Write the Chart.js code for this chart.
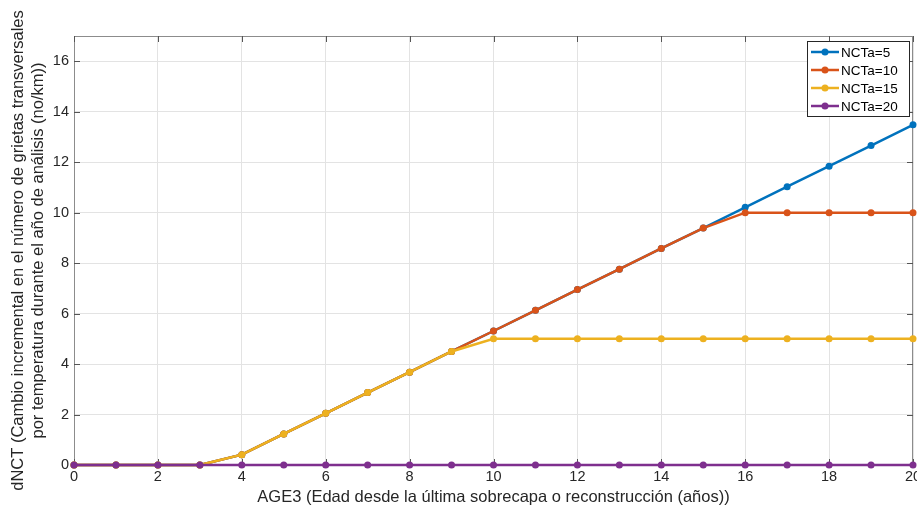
<!DOCTYPE html>
<html>
<head>
  <title>dNCT vs AGE3</title>
  <script src="https://cdn.jsdelivr.net/npm/chart.js"></script>
  <style>
    body { margin: 0; background: #fff; }
    #wrap { width: 917px; height: 511px; }
  </style>
</head>
<body>
  <div id="wrap"><canvas id="myChart" width="917" height="511"></canvas></div>
  <script>
    // years since last overlay
    const ages = [0,1,2,3,4,5,6,7,8,9,10,11,12,13,14,15,16,17,18,19,20];
    const seriesNames = ['NCTa=5', 'NCTa=10', 'NCTa=15', 'NCTa=20'];
    const nct5  = [0,0,0,0,0.41,1.23,2.05,2.87,3.68,4.50,5.31,6.13,6.95,7.76,8.58,9.39,10.21,11.03,11.84,12.66,13.48];
    const nct10 = [0,0,0,0,0.41,1.23,2.05,2.87,3.68,4.50,5.31,6.13,6.95,7.76,8.58,9.39,10,10,10,10,10];
    const nct15 = [0,0,0,0,0.41,1.23,2.05,2.87,3.68,4.50,5,5,5,5,5,5,5,5,5,5,5];
    const nct20 = [0,0,0,0,0,0,0,0,0,0,0,0,0,0,0,0,0,0,0,0,0];
    const xTicks = [0,2,4,6,8,10,12,14,16,18,20];
    const yTicks = [0,2,4,6,8,10,12,14,16];

    const colors = ['#0072BD', '#D95319', '#EDB120', '#7E2F8E'];
    const allSeries = [nct5, nct10, nct15, nct20];
    const fontFam = '"Liberation Sans", Arial, sans-serif';

    const datasets = allSeries.map((vals, i) => ({
      label: seriesNames[i],
      data: vals.map((v, j) => ({ x: ages[j], y: v })),
      borderColor: colors[i],
      backgroundColor: colors[i],
      borderWidth: 2.5,
      pointRadius: 3.5,
      pointHoverRadius: 3.5,
      pointBorderWidth: 0,
      tension: 0,
      clip: false,
      order: 3 - i
    }));

    // box around plot + inner ticks like matlab
    const boxPlugin = {
      id: 'box',
      beforeDatasetsDraw(chart) {
        const ctx = chart.ctx;
        const a = chart.chartArea;
        const xs = chart.scales.x, ys = chart.scales.y;
        ctx.save();
        ctx.strokeStyle = '#8c8c8c';
        ctx.lineWidth = 1;
        ctx.strokeRect(a.left + 0.5, a.top + 0.5, a.right - a.left - 1, a.bottom - a.top - 1);
        ctx.strokeStyle = '#555';
        ctx.beginPath();
        xTicks.forEach(t => {
          const px = Math.round(xs.getPixelForValue(t)) + 0.5;
          ctx.moveTo(px, a.bottom); ctx.lineTo(px, a.bottom - 6);
          ctx.moveTo(px, a.top); ctx.lineTo(px, a.top + 6);
        });
        yTicks.forEach(t => {
          const py = Math.round(ys.getPixelForValue(t)) + 0.5;
          ctx.moveTo(a.left, py); ctx.lineTo(a.left + 6, py);
          ctx.moveTo(a.right, py); ctx.lineTo(a.right - 6, py);
        });
        ctx.stroke();
        ctx.restore();
      }
    };

    // legend in upper right corner of the plot
    const legendPlugin = {
      id: 'boxLegend',
      afterDraw(chart) {
        const ctx = chart.ctx;
        const a = chart.chartArea;
        const w = 102, h = 75;
        const left = a.right - 4 - w, top = a.top + 5;
        ctx.save();
        ctx.fillStyle = '#fff';
        ctx.fillRect(left, top, w, h);
        ctx.strokeStyle = '#262626';
        ctx.lineWidth = 1;
        ctx.strokeRect(left + 0.5, top + 0.5, w, h);
        ctx.font = '13.5px ' + fontFam;
        ctx.textBaseline = 'middle';
        chart.data.datasets.forEach((ds, i) => {
          const y = top + 11 + i * 18;
          ctx.strokeStyle = ds.borderColor;
          ctx.fillStyle = ds.borderColor;
          ctx.lineWidth = 2.5;
          ctx.beginPath();
          ctx.moveTo(left + 4, y); ctx.lineTo(left + 32, y);
          ctx.stroke();
          ctx.beginPath();
          ctx.arc(left + 18, y, 3.5, 0, Math.PI * 2);
          ctx.fill();
          ctx.fillStyle = '#000';
          ctx.fillText(ds.label, left + 34, y + 1);
        });
        ctx.restore();
      }
    };

    const ctx = document.getElementById('myChart').getContext('2d');
    new Chart(ctx, {
      type: 'line',
      data: { datasets: datasets },
      options: {
        responsive: false,
        animation: false,
        layout: { padding: { top: 36, right: 4, left: 0, bottom: 0 } },
        plugins: { legend: { display: false }, tooltip: { enabled: false } },
        scales: {
          x: {
            type: 'linear',
            min: 0,
            max: 20,
            afterBuildTicks: s => { s.ticks = xTicks.map(v => ({ value: v })); },
            afterFit: s => { s.height = 46; s.paddingLeft = 0; s.paddingRight = 0; },
            grid: { color: '#e3e3e3', drawTicks: false },
            border: { display: false },
            ticks: {
              padding: 3,
              color: '#262626',
              maxRotation: 0,
              autoSkip: false,
              font: { family: fontFam, size: 14.5 }
            },
            title: {
              display: true,
              text: 'AGE3 (Edad desde la última sobrecapa o reconstrucción (años))',
              color: '#262626',
              padding: { top: 0, bottom: 4 },
              font: { family: fontFam, size: 16.5, lineHeight: 1.2 }
            }
          },
          y: {
            min: 0,
            max: 17,
            afterBuildTicks: s => { s.ticks = yTicks.map(v => ({ value: v })); },
            afterFit: s => { s.width = 74; s.paddingTop = 0; s.paddingBottom = 0; },
            grid: { color: '#e3e3e3', drawTicks: false },
            border: { display: false },
            ticks: {
              padding: 5,
              color: '#262626',
              font: { family: fontFam, size: 14.5 }
            },
            title: {
              display: true,
              text: ['dNCT (Cambio incremental en el número de grietas transversales',
                     'por temperatura durante el año de análisis (no/km))'],
              color: '#262626',
              padding: { top: 9, bottom: 0 },
              font: { family: fontFam, size: 16.5, lineHeight: 1.2 }
            }
          }
        }
      },
      plugins: [boxPlugin, legendPlugin]
    });
  </script>
</body>
</html>
